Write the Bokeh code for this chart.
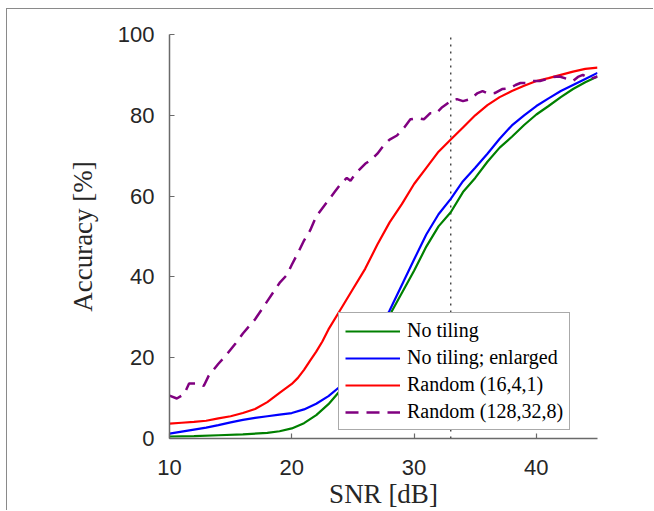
from bokeh.plotting import figure
from bokeh.models import Range1d, Legend, LegendItem, FixedTicker
from bokeh.embed import file_html
from bokeh.resources import INLINE

# ---- data ----
x_ticks = [10, 20, 30, 40]
y_ticks = [0, 20, 40, 60, 80, 100]
vline_x = [33, 33]
vline_y = [0, 100]

green_x = [10, 12, 14, 16, 18, 19, 20, 21, 22, 23, 24, 25, 26, 27, 28, 29, 30, 31, 32, 33,
           34, 35, 36, 37, 38, 39, 40, 41, 42, 43, 44, 45]
green_y = [0.5, 0.6, 0.8, 1.0, 1.4, 1.8, 2.5, 3.8, 5.8, 8.5, 12, 16, 21, 26, 30.5, 36, 41.5,
           47.5, 52.5, 56, 61, 64.5, 68.5, 72, 74.7, 77.6, 80.2, 82.3, 84.5, 86.5, 88.2, 89.6]

blue_x = [10, 11, 12, 13, 14, 15, 16, 17, 18, 19, 20, 21, 22, 23, 24, 25, 26, 27, 28, 29, 30,
          31, 32, 33, 34, 35, 36, 37, 38, 39, 40, 41, 42, 43, 44, 45]
blue_y = [1.2, 1.7, 2.2, 2.7, 3.3, 4.0, 4.6, 5.1, 5.5, 5.9, 6.3, 7.2, 8.6, 10.5, 13, 17, 21.5,
          26.5, 31.7, 38, 44.3, 50.5, 55.5, 59.3, 63.7, 67, 70.5, 74.2, 77.5, 80, 82.3, 84.2,
          86, 87.5, 89, 90.5]

red_x = [10, 11, 12, 13, 14, 15, 16, 17, 18, 19, 20, 20.5, 21, 21.5, 22, 22.5, 23, 24, 25, 26,
         27, 28, 29, 30, 31, 32, 33, 34, 35, 36, 37, 38, 39, 40, 41, 42, 43, 44, 45]
red_y = [3.7, 3.9, 4.1, 4.4, 5.0, 5.5, 6.3, 7.3, 9.0, 11.3, 13.5, 15, 17, 19.3, 21.5, 24, 27,
         32, 37, 42, 48, 53.5, 58, 63, 67, 71, 74, 77, 80, 82.5, 84.5, 86, 87.3, 88.5, 89.2,
         90, 90.8, 91.5, 91.8]

purple_x = [10, 10.6, 11.2, 11.6, 12.4, 12.8, 13.2, 14, 14.6, 15.4, 16, 17, 18, 19, 19.6, 20,
            20.6, 21, 21.5, 22, 22.5, 23, 23.5, 24, 24.5, 24.8, 25.2, 26, 26.5, 27, 27.5, 28,
            28.6, 29.2, 29.7, 30.3, 30.8, 31.3, 31.8, 32.3, 33, 33.5, 34, 34.6, 35.2, 35.6,
            36.1, 36.6, 37.2, 37.8, 38.3, 38.7, 39.2, 39.7, 40.3, 40.9, 41.4, 41.9, 42.5, 43,
            43.4, 43.8, 44.4, 45]
purple_y = [10.6, 9.9, 11, 13.6, 13.6, 13.0, 15.5, 18.5, 20.5, 23.5, 26, 29.5, 34, 38.5, 40.5,
            43, 46.5, 49, 51.5, 55, 57, 59, 61, 63, 64.5, 63.8, 65.5, 68, 69, 70.5, 72.5, 74,
            75, 77, 79, 79.3, 79, 80.5, 80.5, 82, 83.5, 84, 83.5, 84, 85.5, 86, 85.3, 85.5,
            86.5, 86.7, 87.5, 88, 88, 88.5, 88.5, 89, 89.5, 89.6, 89, 88.5, 89.5, 90, 89, 89.6]

labels = ["No tiling", "No tiling; enlarged", "Random (16,4,1)", "Random (128,32,8)"]
x_title = "SNR [dB]"
y_title = "Accuracy [%]"

SERIF = "Liberation Serif"

# ---- figure ----
p = figure(width=647, height=502, x_range=Range1d(10, 45), y_range=Range1d(0, 100),
           output_backend="svg", toolbar_location=None,
           min_border_left=162, min_border_right=57, min_border_top=25, min_border_bottom=73)
p.styles = {"margin-left": "6px", "margin-top": "8px",
            "border-top": "1px solid #8a8a8a", "border-left": "1px solid #8a8a8a"}
p.outline_line_color = None
p.xgrid.grid_line_color = None
p.ygrid.grid_line_color = None
p.background_fill_color = "white"
p.border_fill_color = "white"

axis_col = "#6a6a6a"
for ax in (p.xaxis[0], p.yaxis[0]):
    ax.axis_line_color = axis_col
    ax.axis_line_width = 1.5
    ax.major_tick_line_color = axis_col
    ax.major_tick_line_width = 1.2
    ax.major_tick_in = 5
    ax.major_tick_out = 0
    ax.minor_tick_line_color = None
    ax.major_label_text_font = "Liberation Sans"
    ax.major_label_text_font_size = "22px"
    ax.major_label_text_color = "#262626"
    ax.major_label_text_line_height = 1.0
    ax.axis_label_text_font = SERIF
    ax.axis_label_text_font_size = "27px"
    ax.axis_label_text_font_style = "normal"
    ax.axis_label_text_color = "#262626"

p.xaxis.ticker = FixedTicker(ticks=x_ticks)
p.yaxis.ticker = FixedTicker(ticks=y_ticks)
p.xaxis.axis_label = x_title
p.yaxis.axis_label = y_title
p.xaxis.major_label_standoff = 21
p.xaxis.axis_label_standoff = 1
p.xaxis.axis_label_text_line_height = 0.9
p.yaxis.major_label_standoff = 15
p.yaxis.axis_label_standoff = 17

p.line(vline_x, vline_y, line_color="#333333", line_width=1.3, line_dash="2 5")

r_g = p.line(green_x, green_y, line_color="#008000", line_width=2.2)
r_b = p.line(blue_x, blue_y, line_color="#0000ff", line_width=2.2)
r_r = p.line(red_x, red_y, line_color="#ff0000", line_width=2.2)
r_p = p.line(purple_x, purple_y, line_color="#800080", line_width=2.5, line_dash="13 8")

legend = Legend(items=[LegendItem(label=labels[0], renderers=[r_g]),
                       LegendItem(label=labels[1], renderers=[r_b]),
                       LegendItem(label=labels[2], renderers=[r_r]),
                       LegendItem(label=labels[3], renderers=[r_p])],
                location=(169, 8))
legend.label_text_font = "'Liberation Serif', 'Times New Roman', serif"
legend.label_text_font_style = "normal"
legend.label_text_font_size = "20px"
legend.label_text_color = "black"
legend.glyph_width = 55
legend.glyph_height = 20
legend.label_standoff = 7
legend.label_height = 21
legend.spacing = 4
legend.padding = 6
legend.margin = 0
legend.border_line_color = "#555555"
legend.border_line_width = 1.5
legend.background_fill_color = "white"
legend.background_fill_alpha = 1.0
p.add_layout(legend)

open("out.html", "w").write(file_html(p, INLINE))
